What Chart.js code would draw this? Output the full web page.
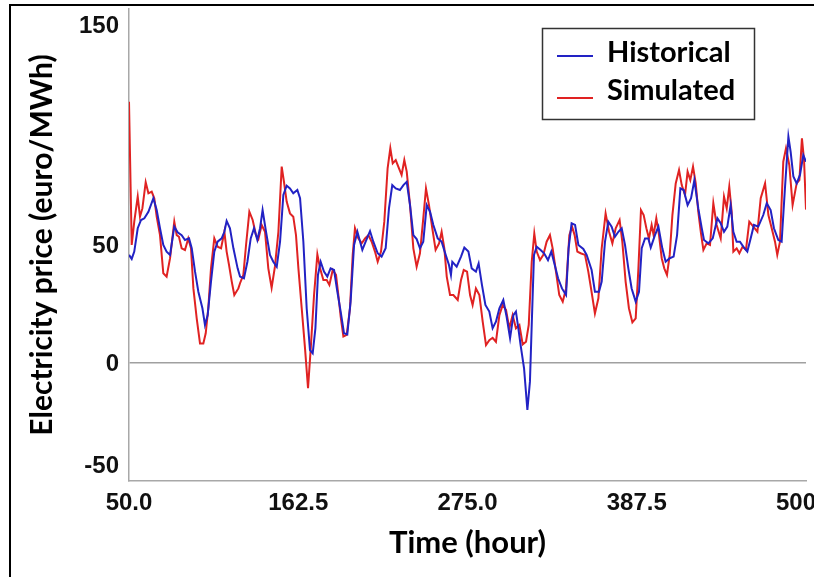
<!DOCTYPE html>
<html>
<head>
<meta charset="utf-8">
<script src="https://cdn.jsdelivr.net/npm/chart.js@4/dist/chart.umd.min.js"></script>
<style>
  html, body { margin: 0; padding: 0; background: #fff; overflow: hidden; }
  #frame { position: absolute; left: 9px; top: 4px; width: 900px; height: 700px; border: 2px solid #000; }
  #wrap { position: absolute; left: 0; top: 0; width: 850px; height: 577px; }
</style>
</head>
<body>
<div id="frame"></div>
<div id="wrap"><canvas id="priceChart"></canvas></div>
<script>
// hours and prices
const histHours = [50.0, 51.8, 53.5, 55.8, 58.0, 60.2, 62.9, 66.2, 68.4, 70.6, 72.8, 75.0, 77.3, 80.1, 82.3, 85.0, 87.2, 89.9, 91.7, 93.9, 96.1, 98.8, 100.5, 102.3, 104.5, 106.7, 108.9, 111.6, 113.4, 114.9, 117.1, 119.4, 122.2, 123.8, 126.4, 128.7, 130.9, 133.1, 135.3, 137.1, 138.8, 141.1, 143.7, 145.9, 148.2, 150.4, 152.6, 154.8, 157.0, 159.2, 161.9, 163.7, 165.9, 168.1, 170.3, 172.1, 173.9, 175.6, 177.4, 179.6, 181.8, 184.0, 186.3, 188.5, 190.7, 192.9, 195.1, 197.3, 199.6, 201.8, 205.1, 207.3, 210.2, 212.4, 215.3, 217.9, 220.6, 222.8, 225.0, 227.3, 230.1, 232.4, 234.6, 236.8, 239.0, 241.2, 243.4, 245.6, 247.9, 250.1, 252.3, 255.2, 257.8, 260.5, 262.7, 264.0, 264.9, 267.8, 270.7, 272.9, 275.6, 277.8, 280.6, 282.4, 284.6, 286.9, 289.5, 291.7, 293.9, 296.2, 298.8, 301.0, 303.3, 305.5, 307.2, 308.8, 310.3, 312.6, 314.8, 316.5, 317.9, 319.2, 321.0, 323.6, 325.9, 328.5, 330.7, 333.0, 335.2, 337.8, 340.5, 342.2, 344.2, 346.5, 348.7, 352.0, 354.2, 357.5, 359.7, 362.4, 364.2, 366.4, 368.6, 370.8, 373.0, 375.3, 377.5, 379.7, 381.9, 384.1, 386.8, 389.0, 390.8, 393.0, 395.2, 396.8, 399.6, 401.9, 404.5, 406.7, 409.4, 412.0, 414.3, 416.5, 418.7, 421.3, 423.6, 425.8, 428.4, 430.7, 432.2, 435.1, 438.0, 441.1, 443.3, 445.5, 447.7, 449.9, 451.7, 453.9, 456.1, 458.3, 461.0, 463.2, 465.4, 468.3, 471.6, 473.9, 476.5, 478.7, 481.6, 483.8, 486.0, 488.3, 489.8, 491.6, 493.8, 496.0, 498.2, 500.0];
const histPrice = [45.8, 44.1, 47.2, 57.1, 60.6, 61.3, 64.1, 69.8, 64.8, 57.1, 50.0, 47.2, 45.8, 57.8, 55.4, 54.2, 52.1, 52.8, 48.6, 38.7, 30.2, 23.2, 16.1, 20.3, 34.5, 47.2, 51.4, 52.8, 55.6, 60.2, 57.1, 48.6, 40.1, 36.6, 35.9, 42.9, 52.8, 57.1, 52.1, 57.1, 64.8, 55.6, 45.8, 42.9, 40.8, 51.4, 71.2, 75.1, 74.0, 71.9, 73.3, 69.8, 51.4, 23.2, 5.5, 4.1, 14.7, 37.3, 42.9, 38.7, 36.6, 40.1, 39.4, 30.2, 21.8, 12.6, 12.1, 26.0, 50.0, 55.6, 47.9, 51.4, 55.9, 51.4, 46.5, 45.1, 48.6, 65.5, 75.4, 74.0, 73.3, 75.4, 76.8, 66.9, 54.2, 52.5, 48.6, 51.4, 66.9, 64.1, 58.5, 52.8, 51.4, 45.8, 41.5, 37.3, 42.9, 40.8, 45.1, 48.9, 47.2, 40.1, 38.7, 42.2, 33.1, 24.6, 21.8, 14.7, 17.5, 23.2, 26.7, 19.6, 10.5, 20.3, 21.8, 14.7, 7.6, -2.3, -19.9, -7.9, 20.3, 45.8, 49.3, 47.9, 46.5, 43.6, 47.2, 41.5, 35.9, 31.6, 28.8, 48.6, 59.2, 58.5, 50.0, 48.3, 45.8, 39.4, 30.2, 30.2, 34.5, 51.4, 59.9, 57.8, 53.5, 55.6, 57.1, 50.0, 40.1, 31.6, 26.0, 30.2, 48.6, 52.8, 52.8, 48.9, 54.2, 57.8, 48.6, 42.9, 44.4, 45.1, 54.2, 74.0, 73.3, 66.9, 69.8, 77.5, 65.5, 57.1, 52.1, 50.7, 52.8, 61.3, 59.2, 55.6, 57.8, 66.9, 55.6, 51.4, 51.4, 49.3, 47.2, 52.8, 58.5, 57.8, 62.7, 67.7, 64.8, 57.1, 52.1, 51.4, 74.0, 95.9, 89.5, 79.0, 76.1, 79.7, 88.1, 85.3];

const simHours = [50.0, 51.8, 53.5, 55.8, 57.3, 58.9, 61.1, 62.9, 65.1, 66.8, 68.4, 70.6, 72.8, 75.0, 77.3, 80.1, 81.7, 83.2, 85.0, 87.2, 89.4, 91.2, 92.8, 95.0, 97.2, 99.4, 101.0, 102.7, 104.5, 106.7, 108.9, 111.2, 113.4, 114.9, 116.5, 118.3, 120.0, 122.7, 123.8, 126.0, 127.8, 130.0, 132.2, 134.4, 136.0, 138.2, 140.4, 142.6, 144.8, 147.0, 149.3, 151.5, 153.0, 154.8, 157.0, 159.2, 161.0, 162.6, 164.8, 167.0, 169.0, 170.8, 173.0, 175.2, 177.0, 179.2, 181.4, 183.2, 185.4, 187.6, 189.4, 190.7, 192.5, 194.7, 196.9, 198.7, 200.2, 202.4, 204.7, 206.9, 209.1, 211.3, 213.5, 215.3, 217.5, 219.7, 221.9, 223.7, 225.3, 227.3, 229.0, 231.2, 233.0, 234.6, 236.8, 239.0, 241.2, 243.4, 245.6, 247.4, 249.4, 251.6, 253.8, 256.1, 257.8, 259.6, 261.2, 263.4, 265.6, 268.5, 270.7, 272.5, 274.7, 276.7, 278.4, 280.6, 282.9, 285.1, 287.3, 289.5, 291.7, 293.9, 296.2, 298.4, 300.6, 302.8, 305.0, 307.2, 309.5, 311.7, 313.9, 315.7, 317.7, 319.4, 321.0, 323.2, 325.4, 327.6, 329.8, 331.6, 333.8, 336.0, 338.3, 340.5, 342.7, 344.5, 346.2, 348.0, 350.2, 353.1, 355.3, 357.1, 359.7, 362.0, 364.2, 366.8, 369.1, 371.3, 373.5, 376.1, 377.9, 380.1, 382.3, 384.6, 386.8, 388.6, 390.3, 392.1, 393.9, 395.6, 397.4, 398.7, 400.5, 402.3, 404.1, 405.8, 407.6, 409.4, 411.2, 413.4, 415.6, 417.4, 419.6, 421.3, 423.1, 424.9, 426.7, 428.4, 430.2, 431.8, 434.0, 436.2, 438.4, 440.6, 443.3, 445.5, 447.3, 449.0, 450.6, 451.7, 453.9, 455.7, 457.9, 460.1, 462.3, 465.0, 467.7, 469.9, 472.8, 475.0, 477.2, 479.4, 480.9, 482.7, 484.9, 486.7, 488.9, 491.1, 493.8, 495.6, 497.3, 498.7, 500.0];
const simPrice = [110.7, 50.0, 59.9, 70.5, 62.0, 65.5, 76.6, 71.9, 72.6, 69.8, 62.0, 54.2, 38.0, 36.6, 44.4, 59.9, 54.2, 53.5, 48.6, 47.9, 52.8, 48.6, 31.6, 18.9, 8.3, 8.3, 12.6, 23.2, 40.1, 52.8, 49.3, 48.6, 55.6, 47.2, 41.5, 34.5, 28.8, 31.6, 33.8, 37.3, 50.0, 64.1, 60.6, 54.2, 52.5, 58.5, 55.6, 40.1, 31.9, 40.8, 55.6, 83.2, 76.8, 68.4, 63.4, 62.0, 54.2, 40.1, 23.2, 6.2, -10.7, 6.2, 28.8, 46.0, 40.1, 35.2, 35.2, 33.1, 39.4, 37.3, 27.4, 19.6, 11.2, 11.9, 23.2, 45.8, 57.1, 52.8, 50.7, 52.8, 54.2, 51.4, 47.2, 42.9, 47.2, 59.9, 82.5, 91.0, 84.6, 86.0, 83.2, 79.7, 86.0, 81.1, 66.9, 48.6, 40.8, 46.5, 61.3, 74.0, 66.9, 57.1, 47.9, 50.7, 55.6, 48.6, 36.6, 28.8, 28.8, 26.7, 35.2, 39.4, 38.7, 28.8, 24.6, 31.6, 28.8, 17.5, 7.6, 9.7, 10.7, 9.0, 20.3, 24.6, 22.5, 14.7, 20.3, 14.7, 16.1, 7.9, 9.0, 16.1, 42.9, 54.9, 47.2, 43.6, 45.8, 51.4, 54.2, 48.6, 38.7, 28.8, 26.0, 31.6, 54.2, 57.8, 54.2, 47.2, 46.5, 45.8, 38.7, 31.6, 21.0, 27.4, 48.6, 63.4, 55.6, 50.7, 57.1, 60.6, 51.4, 34.5, 23.2, 17.2, 18.9, 40.1, 64.8, 62.7, 57.1, 52.8, 58.5, 54.2, 61.3, 54.2, 44.4, 40.1, 37.3, 45.8, 62.7, 76.1, 81.8, 75.4, 71.2, 81.1, 77.5, 83.2, 76.1, 64.1, 54.9, 47.9, 50.7, 50.0, 67.7, 58.5, 52.8, 70.5, 65.5, 74.7, 64.1, 47.2, 48.6, 46.5, 49.3, 47.9, 59.9, 57.8, 55.6, 69.8, 76.1, 62.7, 57.1, 51.4, 45.8, 51.4, 85.3, 91.0, 83.9, 66.9, 76.1, 77.5, 95.2, 86.0, 65.0];

const seriesNames = ['Historical', 'Simulated'];
const xTicks = [50, 162.5, 275, 387.5, 500];
const xTickLabels = ['50.0', '162.5', '275.0', '387.5', '500.0'];
const yTicks = [-50, 0, 50, 150];
const yTickLabels = ['-50', '0', '50', '150'];

const blue = '#2222c4';
const red = '#e02222';
const tickFont = 'bold 24px "Liberation Sans", Arial, sans-serif';
const titleFamily = 'Lato, "Open Sans", sans-serif';

// y tick labels, the ones at the edges are pulled inwards like in the picture
const yLabelsPlugin = {
    id: 'yLabels',
    afterDraw(chart) {
        const ctx = chart.ctx;
        const y = chart.scales.y;
        const area = chart.chartArea;
        ctx.save();
        ctx.font = tickFont;
        ctx.fillStyle = '#111';
        ctx.textAlign = 'right';
        ctx.textBaseline = 'middle';
        yTicks.forEach((v, i) => {
            let py = y.getPixelForValue(v) + 1;
            py = Math.min(Math.max(py, area.top + 17), area.bottom - 15);
            ctx.fillText(yTickLabels[i], area.left - 10, py);
        });
        ctx.restore();
    }
};

// boxed legend in the upper right corner
const boxLegendPlugin = {
    id: 'boxLegend',
    afterDraw(chart) {
        const ctx = chart.ctx;
        ctx.save();
        ctx.strokeStyle = '#333';
        ctx.lineWidth = 1.5;
        ctx.strokeRect(542.5, 28.5, 212, 91);
        ctx.font = 'bold 29px ' + titleFamily;
        ctx.textBaseline = 'alphabetic';
        ctx.textAlign = 'left';
        chart.data.datasets.forEach((ds, i) => {
            const rowY = 56 + i * 42;
            ctx.strokeStyle = ds.borderColor;
            ctx.lineWidth = 2;
            ctx.beginPath();
            ctx.moveTo(557, rowY);
            ctx.lineTo(593, rowY);
            ctx.stroke();
            ctx.fillStyle = '#000';
            ctx.fillText(ds.label, 607, rowY + 6 + i * -4);
        });
        ctx.restore();
    }
};

function toPoints(xs, ys) {
    return xs.map((x, i) => ({ x: x, y: ys[i] }));
}

const ctx = document.getElementById('priceChart').getContext('2d');
new Chart(ctx, {
    type: 'line',
    data: {
        datasets: [{
            label: seriesNames[0],
            data: toPoints(histHours, histPrice),
            borderColor: blue,
            borderWidth: 2,
            pointRadius: 0,
            tension: 0,
            fill: false
        }, {
            label: seriesNames[1],
            data: toPoints(simHours, simPrice),
            borderColor: red,
            borderWidth: 2,
            pointRadius: 0,
            tension: 0,
            fill: false
        }]
    },
    options: {
        responsive: true,
        maintainAspectRatio: false,
        animation: false,
        layout: { padding: { left: 0, top: 9, right: 44, bottom: 0 } },
        plugins: {
            legend: { display: false },
            tooltip: { enabled: false }
        },
        scales: {
            x: {
                type: 'linear',
                min: 50,
                max: 500,
                afterBuildTicks: s => { s.ticks = xTicks.map(v => ({ value: v })); },
                afterFit: s => { s.height = 96; },
                grid: { display: false, drawTicks: false },
                border: { display: true, color: '#a8a8a8', width: 1.5 },
                ticks: {
                    padding: 8,
                    maxRotation: 0,
                    font: { family: '"Liberation Sans", Arial, sans-serif', size: 24, weight: 'bold' },
                    color: '#111',
                    callback: (v, i) => xTickLabels[i]
                },
                title: {
                    display: true,
                    text: 'Time (hour)',
                    font: { family: titleFamily, size: 31, weight: 'bold' },
                    color: '#000',
                    padding: { top: 0, bottom: 15 }
                }
            },
            y: {
                type: 'linear',
                min: -50,
                max: 150,
                afterBuildTicks: s => { s.ticks = yTicks.map(v => ({ value: v })); },
                afterFit: s => { s.width = 129; },
                grid: {
                    drawTicks: false,
                    color: c => (c.tick && c.tick.value === 0) ? '#a0a0a0' : 'rgba(0,0,0,0)',
                    lineWidth: 1.5
                },
                border: { display: true, color: '#a8a8a8', width: 1.5 },
                ticks: { display: false },
                title: {
                    display: true,
                    text: 'Electricity price (euro/MWh)',
                    font: { family: titleFamily, size: 30, weight: 'bold' },
                    color: '#000',
                    padding: { top: 24, bottom: 0 }
                }
            }
        }
    },
    plugins: [yLabelsPlugin, boxLegendPlugin]
});
</script>
</body>
</html>
